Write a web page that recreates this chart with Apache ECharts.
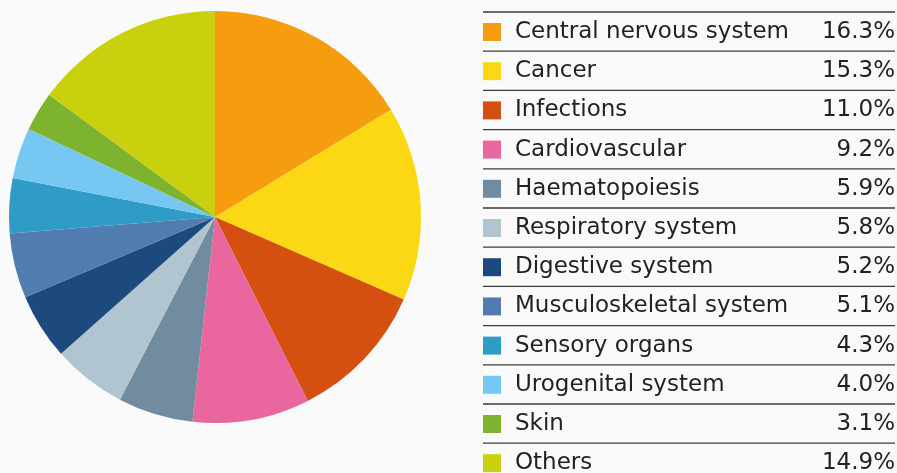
<!DOCTYPE html>
<html>
<head>
<meta charset="utf-8">
<script src="https://cdn.jsdelivr.net/npm/echarts@6/dist/echarts.min.js"></script>
<style>
html,body{margin:0;padding:0;background:#fafafa;}
#chart{width:897px;height:473px;}
</style>
</head>
<body>
<div id="chart"></div>
<script>
const categories = ["Central nervous system","Cancer","Infections","Cardiovascular","Haematopoiesis","Respiratory system","Digestive system","Musculoskeletal system","Sensory organs","Urogenital system","Skin","Others"];
const shares = [16.3,15.3,11.0,9.2,5.9,5.8,5.2,5.1,4.3,4.0,3.1,14.9];
const colors = ["#F59C0F","#FBD714","#D44F10","#E9669E","#718BA0","#B1C5D0","#1D4A7E","#507CB0","#2F9CC7","#76C8F3","#7DB32E","#C9D10F"];

const rowStep = 39.2, tableTop = 12, tableLeft = 483, tableRight = 895;
const lines = [];
for (let i = 0; i < categories.length; i++) {
  lines.push({type:'line', shape:{x1:tableLeft, y1:tableTop + i*rowStep, x2:tableRight, y2:tableTop + i*rowStep}, style:{stroke:'#3a3a3a', lineWidth:1.3}, silent:true});
}
const valueOf = {};
categories.forEach((c,i)=>valueOf[c]=shares[i]);

const font = "'DejaVu Sans', sans-serif";
const chart = echarts.init(document.getElementById('chart'));
chart.setOption({
  backgroundColor:'#fafafa',
  animation:false,
  graphic: lines,
  legend:{
    orient:'vertical', left:tableLeft, top:19, height:470, padding:0,
    itemWidth:18, itemHeight:18, itemGap:13.2, icon:'rect',
    selectedMode:false,
    data: categories,
    formatter: name => '{n|' + name + '}{v|' + valueOf[name].toFixed(1) + '%}',
    textStyle:{
      color:'#222', fontFamily:font, fontSize:23, lineHeight:26,
      rich:{
        n:{fontFamily:font, fontSize:23, color:'#222', width:300, padding:[0,0,0,9], lineHeight:26},
        v:{fontFamily:font, fontSize:23, color:'#222', width:80, align:'right', lineHeight:26}
      }
    }
  },
  series:[{
    type:'pie', center:[215,217], radius:206, startAngle:90, clockwise:true,
    label:{show:false}, labelLine:{show:false}, emphasis:{disabled:true},
    itemStyle:{borderWidth:0},
    data: categories.map((c,i)=>({name:c, value:shares[i], itemStyle:{color:colors[i]}}))
  }]
});
</script>
</body>
</html>
